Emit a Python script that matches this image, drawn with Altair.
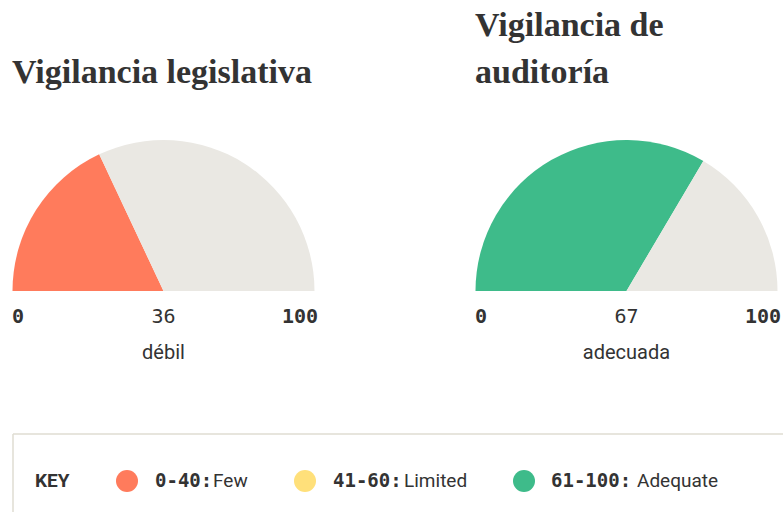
import math
import altair as alt
import pandas as pd

# ---------------- data ----------------
gauges = ["Vigilancia legislativa", "Vigilancia de auditoría"]
gauge_titles = ["Vigilancia legislativa", "Vigilancia de\nauditoría"]
scores = [36, 67]
ratings = ["débil", "adecuada"]
scale_ticks = ["0", "100"]

key_ranges = ["0-40", "41-60", "61-100"]
key_upper = [40, 60, 100]
key_names = ["Few", "Limited", "Adequate"]

# ---------------- style ----------------
key_colors = ["#FF7B5C", "#FFE07A", "#3EBB8A"]
rest_color = "#EAE8E3"
text_color = "#333333"
border_color = "#DFDCD2"
serif = "Liberation Serif"
mono = "DejaVu Sans Mono"
sans = "Roboto"

# ---------------- layout ----------------
W, H = 783, 512
panel_left = [12, 475]
panel_w = 303
R = 151
arc_base = 291
title_base = 83
title_lh = 47
tick_base = 323
rating_base = 359
key_top = 434
key_left = 13
key_mid = 481
key_dot_x = [127, 305, 524]
key_range_x = [155, 333, 551]
key_name_x = [213, 404, 637]


def band_of(score):
    for name, up in zip(key_names, key_upper):
        if score <= up:
            return name
    return key_names[-1]


color_scale = alt.Scale(domain=key_names + ["rest"], range=key_colors + [rest_color])
theta_scale = alt.Scale(domain=[0, 100], range=[-math.pi / 2, math.pi / 2])

layers = []
for i, g in enumerate(gauges):
    cx = panel_left[i] + panel_w / 2
    arc_df = pd.DataFrame({
        "gauge": [g, g],
        "part": [band_of(scores[i]), "rest"],
        "value": [scores[i], 100 - scores[i]],
        "order": [0, 1],
    })
    arc = alt.Chart(arc_df).mark_arc(radius=R).encode(
        theta=alt.Theta("value:Q", stack=True, scale=theta_scale),
        color=alt.Color("part:N", scale=color_scale, legend=None),
        order=alt.Order("order:Q"),
        x=alt.value(cx),
        y=alt.value(arc_base),
    )
    layers.append(arc)

    info = pd.DataFrame({
        "title": [gauge_titles[i]],
        "score": [str(scores[i])],
        "rating": [ratings[i]],
        "lo": [scale_ticks[0]],
        "hi": [scale_ticks[1]],
    })
    nlines = gauge_titles[i].count("\n") + 1
    title = alt.Chart(info).mark_text(
        align="left", baseline="alphabetic", font=serif, fontWeight="bold",
        fontSize=34, color=text_color, lineBreak="\n", lineHeight=title_lh,
    ).encode(text="title:N", x=alt.value(panel_left[i]),
             y=alt.value(title_base - (nlines - 1) * title_lh))
    lo = alt.Chart(info).mark_text(
        align="left", baseline="alphabetic", font=mono, fontWeight="bold",
        fontSize=20, color=text_color,
    ).encode(text="lo:N", x=alt.value(panel_left[i]), y=alt.value(tick_base))
    hi = alt.Chart(info).mark_text(
        align="right", baseline="alphabetic", font=mono, fontWeight="bold",
        fontSize=20, color=text_color,
    ).encode(text="hi:N", x=alt.value(panel_left[i] + panel_w + 3), y=alt.value(tick_base))
    sc = alt.Chart(info).mark_text(
        align="center", baseline="alphabetic", font=mono,
        fontSize=20, color=text_color,
    ).encode(text="score:N", x=alt.value(cx), y=alt.value(tick_base))
    rt = alt.Chart(info).mark_text(
        align="center", baseline="alphabetic", font=sans,
        fontSize=20, color=text_color,
    ).encode(text="rating:N", x=alt.value(cx), y=alt.value(rating_base))
    layers += [title, lo, hi, sc, rt]

# ---------------- key box ----------------
dummy = pd.DataFrame({"k": [0]})
top_rule = alt.Chart(dummy).mark_rule(color=border_color, strokeWidth=1.5).encode(
    x=alt.value(key_left), x2=alt.value(W), y=alt.value(key_top))
left_rule = alt.Chart(dummy).mark_rule(color=border_color, strokeWidth=1.5).encode(
    x=alt.value(key_left), y=alt.value(key_top), y2=alt.value(H))
key_lbl = alt.Chart(pd.DataFrame({"t": ["KEY"]})).mark_text(
    align="left", baseline="middle", font=sans, fontWeight="bold",
    fontSize=19, color=text_color,
).encode(text="t:N", x=alt.value(35), y=alt.value(key_mid))
layers += [top_rule, left_rule, key_lbl]

for j in range(len(key_names)):
    kdf = pd.DataFrame({"band": [key_names[j]], "range": [key_ranges[j] + ":"],
                        "name": [key_names[j]]})
    dot = alt.Chart(kdf).mark_point(filled=True, shape="circle", size=484, opacity=1).encode(
        color=alt.Color("band:N", scale=color_scale, legend=None),
        x=alt.value(key_dot_x[j]), y=alt.value(key_mid))
    rng = alt.Chart(kdf).mark_text(
        align="left", baseline="middle", font=mono, fontWeight="bold",
        fontSize=19, color=text_color,
    ).encode(text="range:N", x=alt.value(key_range_x[j]), y=alt.value(key_mid))
    nm = alt.Chart(kdf).mark_text(
        align="left", baseline="middle", font=sans,
        fontSize=19, color=text_color,
    ).encode(text="name:N", x=alt.value(key_name_x[j]), y=alt.value(key_mid))
    layers += [dot, rng, nm]

chart = alt.layer(*layers).properties(
    width=W, height=H, padding=0,
    autosize=alt.AutoSizeParams(type="none"),
    background="white",
).configure_view(stroke=None)

chart.save("out.html", embed_options={"renderer": "svg", "actions": False})
